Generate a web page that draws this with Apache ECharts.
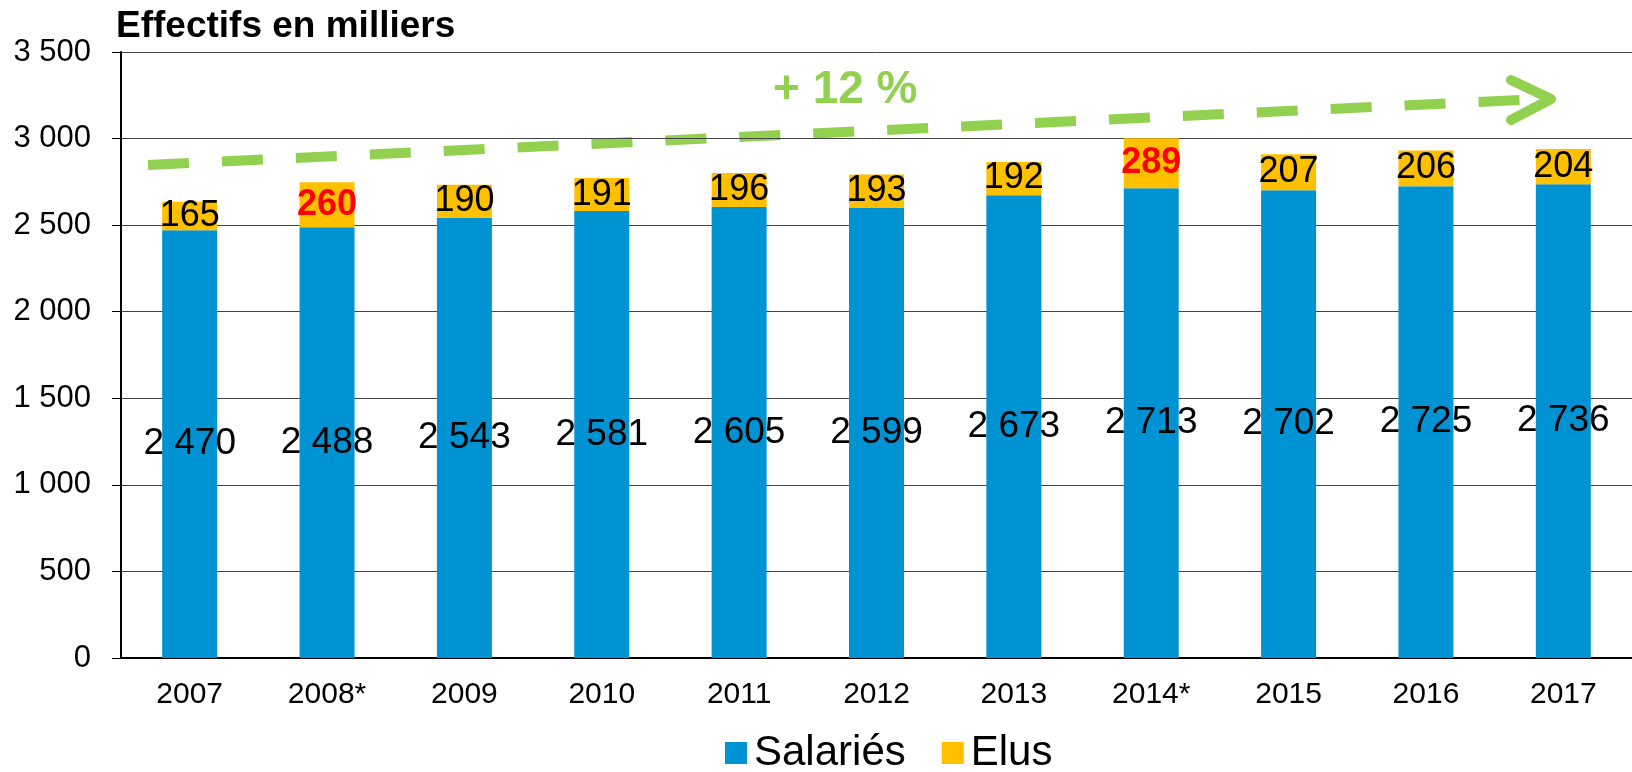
<!DOCTYPE html>
<html lang="fr">
  <head>
    <meta charset="UTF-8" />
    <title>Effectifs en milliers</title>
    <script src="https://cdn.jsdelivr.net/npm/echarts@6/dist/echarts.min.js"></script>
    <style>
      * {
        margin: 0;
        padding: 0;
      }
    </style>
  </head>
  <body>
    <div id="charts" style="width: 1632px; height: 772px"></div>
    <script>
      var years = ["2007", "2008*", "2009", "2010", "2011", "2012", "2013", "2014*", "2015", "2016", "2017"];
      var salaries = [2470, 2488, 2543, 2581, 2605, 2599, 2673, 2713, 2702, 2725, 2736];
      var elus = [165, 260, 190, 191, 196, 193, 192, 289, 207, 206, 204];
      var redYears = ["2008*", "2014*"];

      var font = "'Liberation Sans', Arial, sans-serif";
      var green = "#92D050";

      // "2470" -> "2 470"
      function fmt(v) {
        return String(v).replace(/\B(?=(\d{3})+(?!\d))/g, " ");
      }

      var elusData = elus.map(function (v, i) {
        var red = redYears.indexOf(years[i]) >= 0;
        return {
          value: v,
          label: red ? { color: "#FF0000", fontWeight: "bold" } : {},
        };
      });

      var myEcharts = echarts.init(document.getElementById("charts"));
      var options = {
        animation: false,
        title: {
          text: "Effectifs en milliers",
          left: 111,
          top: 3,
          textStyle: { fontFamily: font, fontSize: 37, fontWeight: "bold", color: "#000" },
        },
        legend: {
          left: 720,
          top: 727,
          itemWidth: 22,
          itemHeight: 22,
          itemGap: 36,
          icon: "rect",
          textStyle: { fontFamily: font, fontSize: 42, color: "#000", padding: [0, 0, 0, 2] },
          data: ["Salariés", "Elus"],
        },
        grid: { left: 121, top: 52, bottom: 114, right: -13 },
        xAxis: {
          type: "category",
          data: years,
          axisLine: { lineStyle: { color: "#000", width: 2 } },
          axisTick: { length: 10, lineStyle: { color: "#000" } },
          axisLabel: { fontFamily: font, fontSize: 30, color: "#000", margin: 22, interval: 0 },
        },
        yAxis: {
          type: "value",
          min: 0,
          max: 3500,
          interval: 500,
          axisLine: { show: true, lineStyle: { color: "#000", width: 2 } },
          axisTick: { show: true, length: 9, lineStyle: { color: "#000" } },
          axisLabel: {
            fontFamily: font,
            fontSize: 31,
            color: "#000",
            margin: 30,
            formatter: fmt,
          },
          splitLine: { lineStyle: { color: "#444", width: 1 } },
        },
        series: [
          {
            name: "Salariés",
            type: "bar",
            stack: "total",
            barWidth: 55,
            data: salaries,
            itemStyle: { color: "#0093D3" },
            label: {
              show: true,
              position: "inside",
              fontFamily: font,
              fontSize: 37,
              color: "#000",
              formatter: function (p) {
                return fmt(p.value);
              },
            },
          },
          {
            name: "Elus",
            type: "bar",
            stack: "total",
            barWidth: 55,
            data: elusData,
            itemStyle: { color: "#FFC000" },
            label: {
              show: true,
              position: "inside",
              fontFamily: font,
              fontSize: 36,
              color: "#000",
            },
          },
        ],
        graphic: [
          {
            type: "line",
            shape: { x1: 148, y1: 165, x2: 1521, y2: 100 },
            style: { stroke: green, lineWidth: 10, lineDash: [41, 33] },
          },
          {
            type: "polyline",
            shape: { points: [[1511, 80], [1551, 99], [1511, 120]] },
            style: { stroke: green, lineWidth: 10, lineCap: "round", lineJoin: "round", fill: null },
          },
          {
            type: "text",
            left: 773,
            top: 67,
            style: { text: "+ 12 %", fill: green, font: "bold 46px " + font },
          },
        ],
      };
      myEcharts.setOption(options);
    </script>
  </body>
</html>
